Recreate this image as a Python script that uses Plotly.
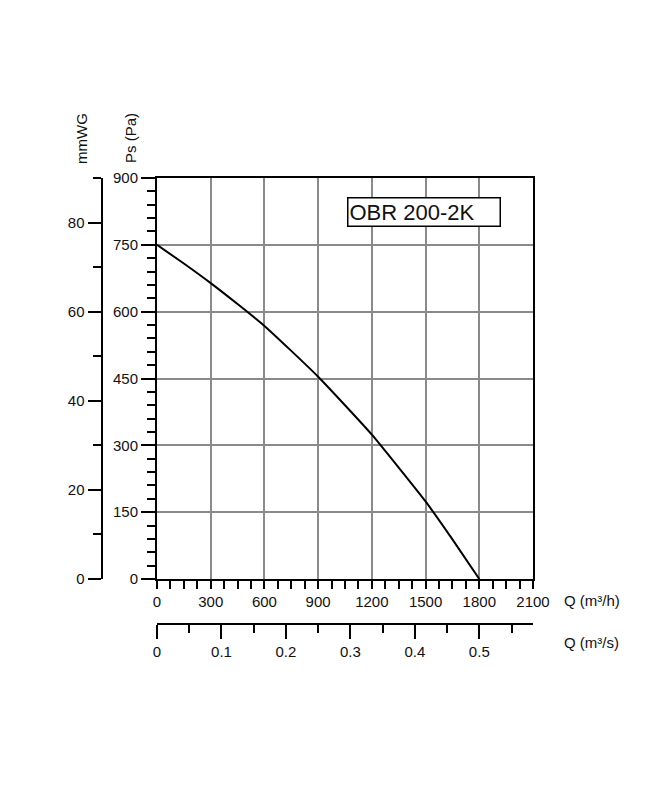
import plotly.graph_objects as go

# fan curve
q_m3h = [0, 150, 300, 450, 600, 750, 900, 1050, 1200, 1350, 1500, 1650, 1800]
ps_pa = [750, 708, 664, 617, 568, 512, 454, 390, 324, 250, 174, 89, 0]
q_m3s = [q / 3600 for q in q_m3h]

model = "OBR 200-2K"

W, H = 652, 800
OFF = 8  # the page body margin shifts the figure by 8px
left, right, top, bottom = 157, 533, 178, 579
font = "Arial, Liberation Sans, sans-serif"
ink = "#111111"

def px_x(v):
    return (v - OFF) / W

def px_y(v):
    return (H - (v - OFF)) / H

fig = go.Figure()
fig.add_trace(go.Scatter(x=q_m3h, y=ps_pa, mode="lines", line=dict(color="black", width=2, shape="spline", smoothing=0.5),
                         hoverinfo="skip", showlegend=False))
# invisible traces so the extra axes get drawn
fig.add_trace(go.Scatter(x=q_m3s, y=ps_pa, xaxis="x2", yaxis="y", mode="lines", line=dict(width=0),
                         opacity=0, hoverinfo="skip", showlegend=False))
fig.add_trace(go.Scatter(x=q_m3h, y=[p / 10 for p in ps_pa], xaxis="x", yaxis="y2", mode="lines", line=dict(width=0),
                         opacity=0, hoverinfo="skip", showlegend=False))

tickfont = dict(family=font, size=15, color=ink)

fig.update_layout(
    width=W, height=H,
    margin=dict(l=0, r=0, t=0, b=0, autoexpand=False),
    paper_bgcolor="white", plot_bgcolor="white",
    font=dict(family=font, color=ink),
    xaxis=dict(domain=[px_x(left), px_x(right)], range=[0, 2100], tick0=0, dtick=300,
               showgrid=True, gridcolor="#8a8a8a", gridwidth=1.5, zeroline=False,
               showline=True, linecolor="black", linewidth=2, mirror=True,
               ticks="outside", ticklen=8, tickwidth=1.5, tickcolor="black",
               minor=dict(dtick=75, ticks="outside", ticklen=8, tickwidth=1.5, tickcolor="black", showgrid=False),
               tickfont=tickfont, fixedrange=True),
    yaxis=dict(domain=[px_y(bottom), px_y(top)], range=[0, 900], tick0=0, dtick=150,
               showgrid=True, gridcolor="#8a8a8a", gridwidth=1.5, zeroline=False,
               showline=True, linecolor="black", linewidth=2, mirror=True,
               ticks="outside", ticklen=14, tickwidth=1.5, tickcolor="black",
               minor=dict(dtick=30, ticks="outside", ticklen=8, tickwidth=1.5, tickcolor="black", showgrid=False),
               tickfont=tickfont, fixedrange=True),
    xaxis2=dict(overlaying="x", anchor="free", position=px_y(624), side="bottom",
                range=[0, 2100 / 3600], tick0=0, dtick=0.1,
                showgrid=False, zeroline=False, showline=True, linecolor="black", linewidth=2,
                ticks="outside", ticklen=14, tickwidth=1.5, tickcolor="black",
                minor=dict(dtick=0.05, ticks="outside", ticklen=8, tickwidth=1.5, tickcolor="black", showgrid=False),
                tickfont=tickfont, fixedrange=True),
    yaxis2=dict(overlaying="y", anchor="free", position=px_x(101.5), side="left",
                range=[0, 90], tick0=0, dtick=20,
                showgrid=False, zeroline=False, showline=True, linecolor="black", linewidth=2,
                ticks="outside", ticklen=13, tickwidth=1.5, tickcolor="black",
                minor=dict(dtick=10, ticks="outside", ticklen=8, tickwidth=1.5, tickcolor="black", showgrid=False),
                tickfont=tickfont, fixedrange=True),
)

labels = [
    ("Q (m³/h)", 562, 600, 0, "left"),
    ("Q (m³/s)", 562, 642, 0, "left"),
    ("Ps (Pa)", 131, 138, -90, "center"),
    ("mmWG", 82, 139, -90, "center"),
]
for text, x, y, ang, anchor in labels:
    fig.add_annotation(text=text, xref="paper", yref="paper", x=px_x(x), y=px_y(y),
                       xanchor=anchor, yanchor="middle", textangle=ang, showarrow=False,
                       font=dict(family=font, size=15, color=ink))

fig.add_annotation(text=model, xref="paper", yref="paper", x=px_x(347), y=px_y(197),
                   xanchor="left", yanchor="top", align="left", showarrow=False,
                   width=149, height=25, borderpad=1, borderwidth=1.5, bordercolor="black",
                   bgcolor="white", font=dict(family=font, size=22, color=ink))

fig.write_html("out.html")
